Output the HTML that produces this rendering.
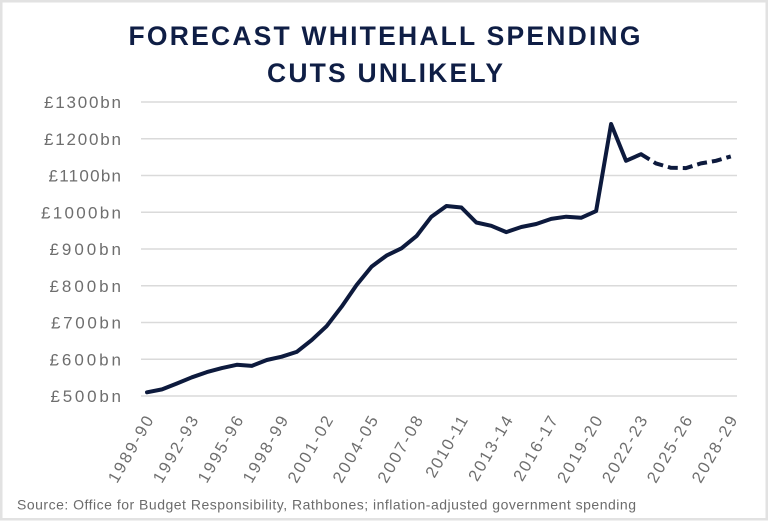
<!DOCTYPE html>
<html>
<head>
<meta charset="utf-8">
<style>
  html, body { margin: 0; padding: 0; background: #ffffff; }
  svg { display: block; }
</style>
</head>
<body>
<svg width="768" height="521" viewBox="0 0 768 521" xmlns="http://www.w3.org/2000/svg">
  <rect x="0" y="0" width="768" height="521" fill="#ffffff"/>
  <rect x="1.25" y="1.25" width="765.5" height="518" fill="none" stroke="#e2e2e2" stroke-width="2.5"/>

  <!-- Title -->
  <g font-family="'Liberation Sans', sans-serif" font-weight="bold" font-size="26.5" fill="#0f1e45" text-anchor="middle">
    <text x="384.5" y="45" textLength="512" lengthAdjust="spacing">FORECAST WHITEHALL SPENDING</text>
    <text x="385" y="82" textLength="236" lengthAdjust="spacing">CUTS UNLIKELY</text>
  </g>

  <!-- Gridlines -->
  <g stroke="#dadada" stroke-width="1.5">
    <line x1="141" y1="102" x2="737" y2="102"/>
    <line x1="141" y1="138.75" x2="737" y2="138.75"/>
    <line x1="141" y1="175.5" x2="737" y2="175.5"/>
    <line x1="141" y1="212.25" x2="737" y2="212.25"/>
    <line x1="141" y1="249" x2="737" y2="249"/>
    <line x1="141" y1="285.75" x2="737" y2="285.75"/>
    <line x1="141" y1="322.5" x2="737" y2="322.5"/>
    <line x1="141" y1="359.25" x2="737" y2="359.25"/>
    <line x1="141" y1="396" x2="737" y2="396"/>
  </g>

  <!-- Y labels -->
  <g font-family="'Liberation Sans', sans-serif" font-size="17" fill="#6e6e6e" text-anchor="end">
    <text x="121" y="108" textLength="77" lengthAdjust="spacing">£1300bn</text>
    <text x="121" y="144.75" textLength="77" lengthAdjust="spacing">£1200bn</text>
    <text x="121" y="181.5" textLength="72.5" lengthAdjust="spacing">£1100bn</text>
    <text x="121" y="218.25" textLength="80" lengthAdjust="spacing">£1000bn</text>
    <text x="121" y="255" textLength="71.5" lengthAdjust="spacing">£900bn</text>
    <text x="121" y="291.75" textLength="71.5" lengthAdjust="spacing">£800bn</text>
    <text x="121" y="328.5" textLength="70" lengthAdjust="spacing">£700bn</text>
    <text x="121" y="365.25" textLength="71.5" lengthAdjust="spacing">£600bn</text>
    <text x="121" y="402" textLength="70.5" lengthAdjust="spacing">£500bn</text>
  </g>

  <!-- X labels -->
  <g font-family="'Liberation Sans', sans-serif" font-size="16.5" fill="#6e6e6e" text-anchor="end">
    <text transform="translate(154,420) rotate(-60)" textLength="74" lengthAdjust="spacing">1989-90</text>
    <text transform="translate(198.9,420) rotate(-60)" textLength="74" lengthAdjust="spacing">1992-93</text>
    <text transform="translate(243.8,420) rotate(-60)" textLength="74" lengthAdjust="spacing">1995-96</text>
    <text transform="translate(288.7,420) rotate(-60)" textLength="74" lengthAdjust="spacing">1998-99</text>
    <text transform="translate(333.6,420) rotate(-60)" textLength="74" lengthAdjust="spacing">2001-02</text>
    <text transform="translate(378.6,420) rotate(-60)" textLength="74" lengthAdjust="spacing">2004-05</text>
    <text transform="translate(423.5,420) rotate(-60)" textLength="74" lengthAdjust="spacing">2007-08</text>
    <text transform="translate(468.4,420) rotate(-60)" textLength="68" lengthAdjust="spacing">2010-11</text>
    <text transform="translate(513.3,420) rotate(-60)" textLength="72" lengthAdjust="spacing">2013-14</text>
    <text transform="translate(558.2,420) rotate(-60)" textLength="72" lengthAdjust="spacing">2016-17</text>
    <text transform="translate(603.1,420) rotate(-60)" textLength="74" lengthAdjust="spacing">2019-20</text>
    <text transform="translate(648,420) rotate(-60)" textLength="74" lengthAdjust="spacing">2022-23</text>
    <text transform="translate(692.9,420) rotate(-60)" textLength="74" lengthAdjust="spacing">2025-26</text>
    <text transform="translate(737.8,420) rotate(-60)" textLength="74" lengthAdjust="spacing">2028-29</text>
  </g>

  <!-- Series solid -->
  <polyline fill="none" stroke="#0d1a3d" stroke-width="4" stroke-linejoin="round" stroke-linecap="round"
    points="147.0,392.3 162.0,389.4 176.9,383.5 191.9,377.3 206.9,372.1 221.9,368.1 236.8,364.8 251.8,365.9 266.8,360.0 281.7,356.7 296.7,351.9 311.7,340.1 326.6,326.2 341.6,306.7 356.6,285.0 371.6,266.6 386.5,255.6 401.5,248.3 416.5,236.1 431.4,216.7 446.4,206.0 461.4,207.5 476.3,222.5 491.3,225.8 506.3,232.1 521.3,227.0 536.2,224.0 551.2,218.9 566.2,216.7 581.1,217.8 596.1,211.1 611.1,124.0 626.0,160.8 641.0,154.2"/>
  <!-- Series dashed -->
  <polyline fill="none" stroke="#0d1a3d" stroke-width="4" stroke-linejoin="round" stroke-dasharray="10,5"
    points="641.0,154.2 656.0,163.4 671.0,167.8 685.9,168.1 700.9,163.4 715.9,160.8 730.8,156.4"/>

  <!-- Source -->
  <text x="17" y="509.5" font-family="'Liberation Sans', sans-serif" font-size="14" fill="#6b6b6b" textLength="619" lengthAdjust="spacing">Source: Office for Budget Responsibility, Rathbones; inflation-adjusted government spending</text>
</svg>
</body>
</html>
